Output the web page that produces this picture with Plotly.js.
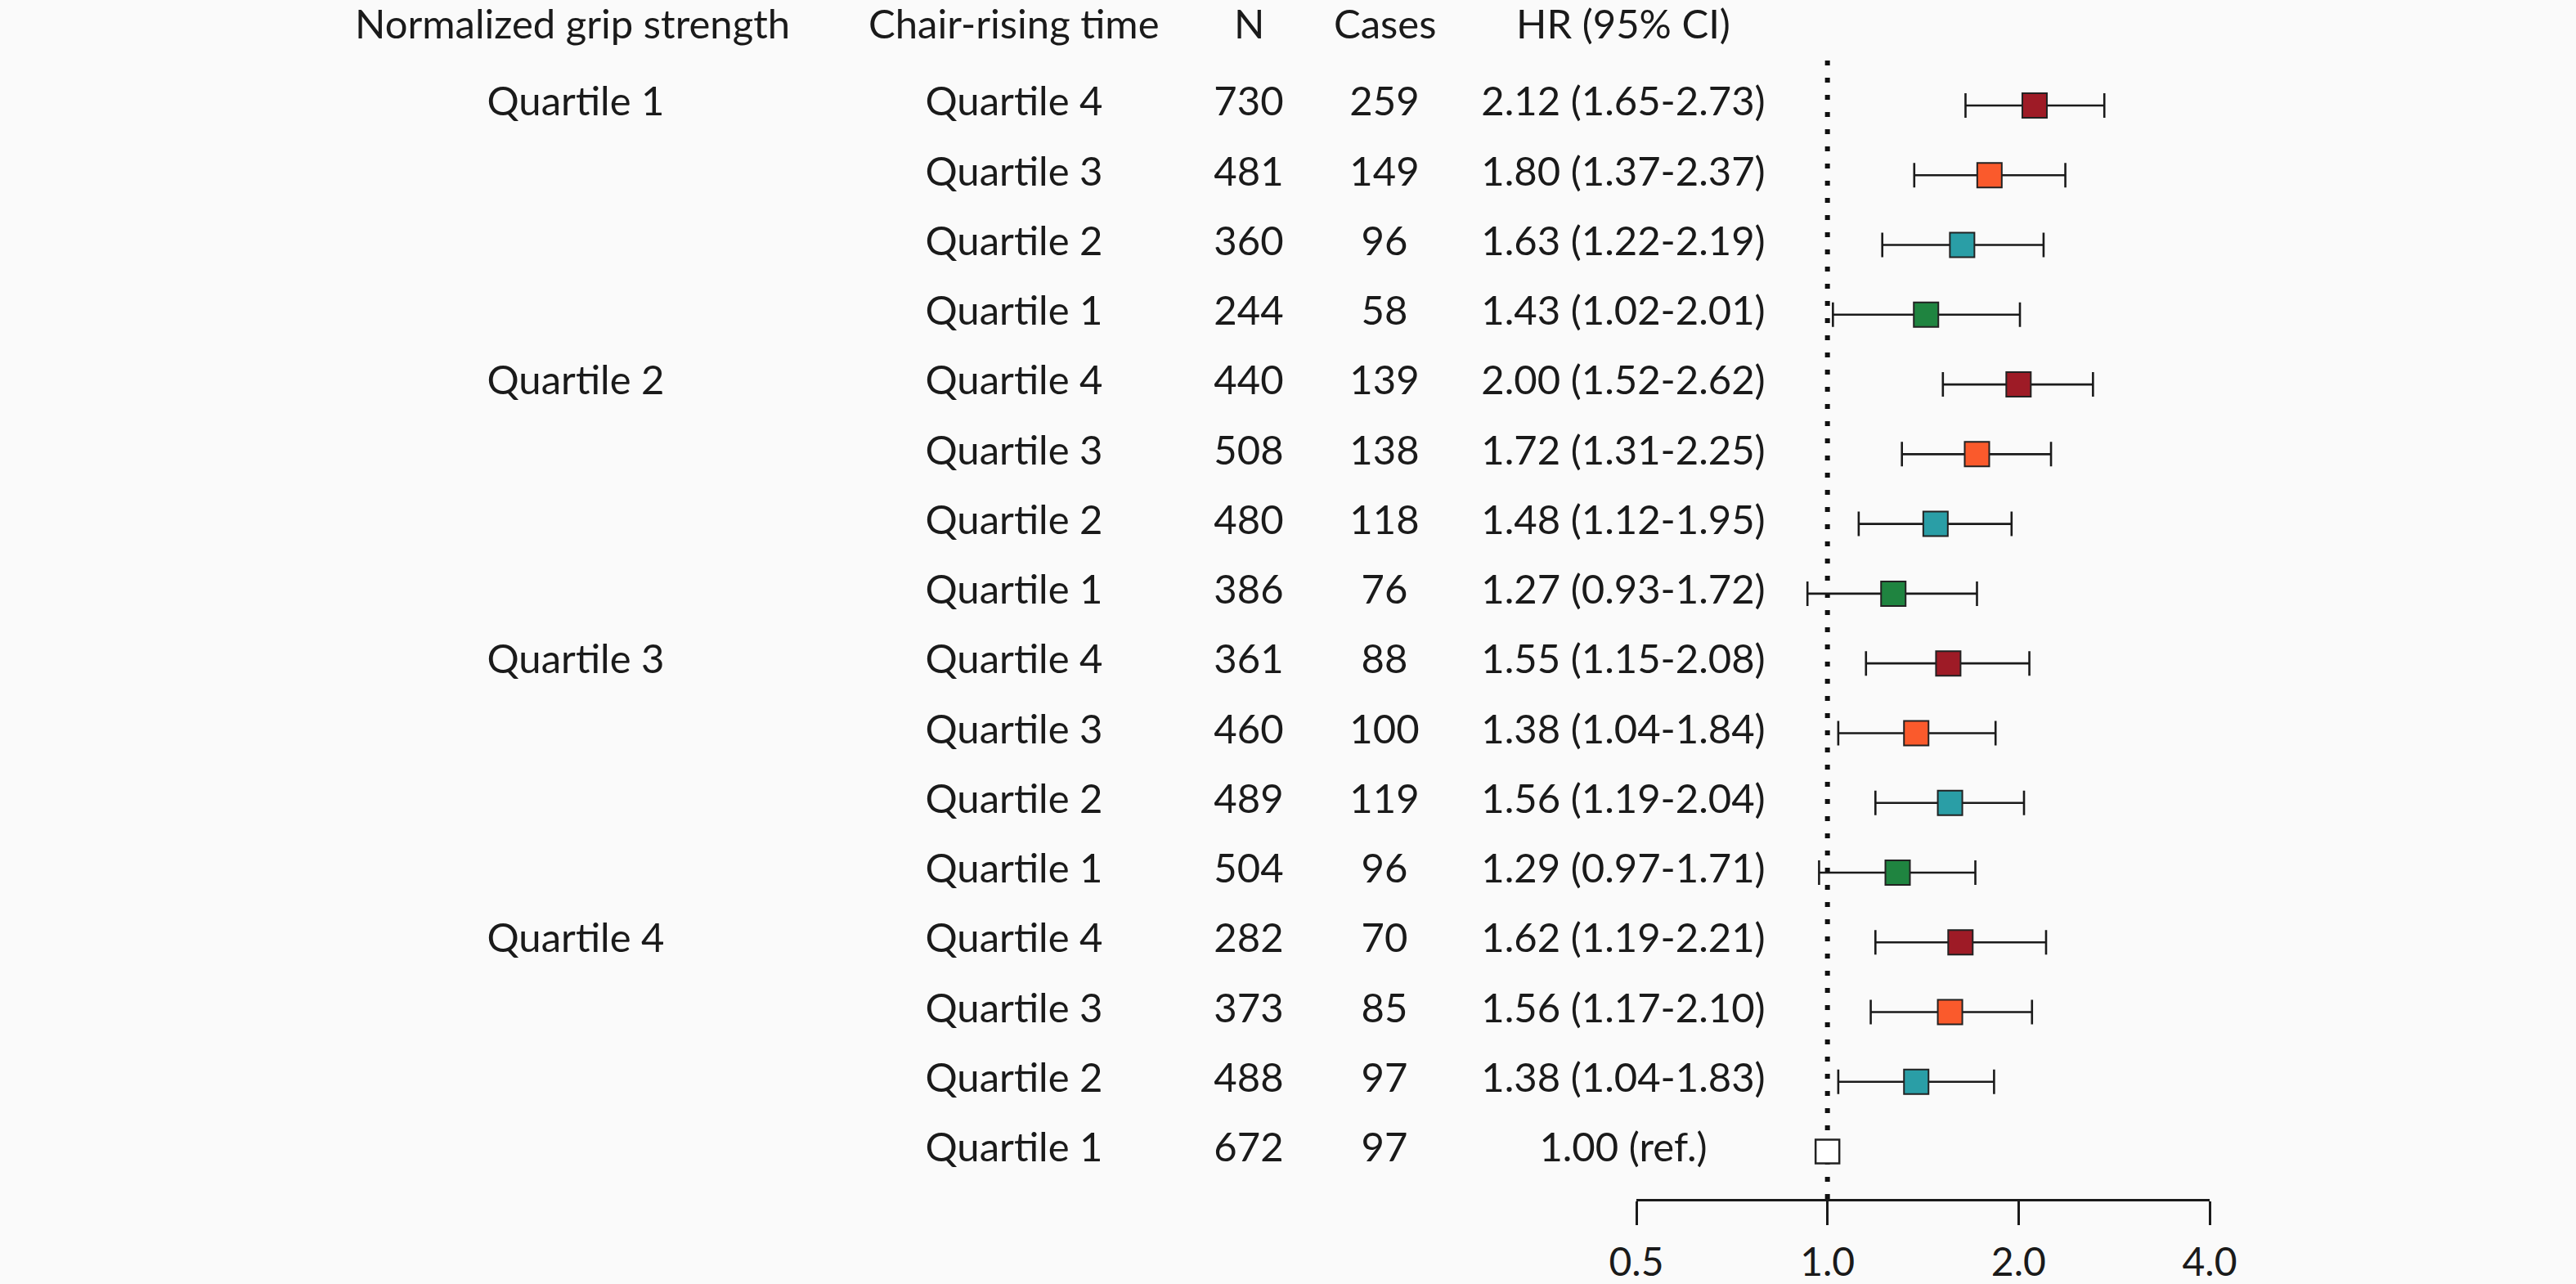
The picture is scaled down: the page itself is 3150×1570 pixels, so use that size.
<!DOCTYPE html>
<html>
<head>
<meta charset="utf-8">
<script src="https://cdn.plot.ly/plotly-3.0.1.min.js"></script>
<style>html,body{margin:0;padding:0;background:#FAFAFA;}#chart{width:3150px;height:1570px;}</style>
</head>
<body>
<div id="chart"></div>
<script>
// ---- data ----
const gripLabels = ["Quartile 1","","","","Quartile 2","","","","Quartile 3","","","","Quartile 4","","",""];
const chairLabels = ["Quartile 4","Quartile 3","Quartile 2","Quartile 1","Quartile 4","Quartile 3","Quartile 2","Quartile 1","Quartile 4","Quartile 3","Quartile 2","Quartile 1","Quartile 4","Quartile 3","Quartile 2","Quartile 1"];
const nValues = [730,481,360,244,440,508,480,386,361,460,489,504,282,373,488,672];
const caseValues = [259,149,96,58,139,138,118,76,88,100,119,96,70,85,97,97];
const hrValues = [2.12,1.80,1.63,1.43,2.00,1.72,1.48,1.27,1.55,1.38,1.56,1.29,1.62,1.56,1.38,1.00];
const ciLower = [1.65,1.37,1.22,1.02,1.52,1.31,1.12,0.93,1.15,1.04,1.19,0.97,1.19,1.17,1.04,null];
const ciUpper = [2.73,2.37,2.19,2.01,2.62,2.25,1.95,1.72,2.08,1.84,2.04,1.71,2.21,2.10,1.83,null];
const headerLabels = ["Normalized grip strength","Chair-rising time","N","Cases","HR (95% CI)"];
const tickValues = [0.5,1,2,4];
const tickLabels = ["0.5","1.0","2.0","4.0"];
const nullEffect = 1.0;

// ---- styles ----
const chairColors = {"Quartile 4":"#9E1B26","Quartile 3":"#FA5A2C","Quartile 2":"#2A9EA6","Quartile 1":"#1F8440"};
const FONT = "Lato, 'Open Sans', sans-serif";
const FS = 49;
const TXT = "#1a1a1a";
const W = 3150, H = 1570, PLOT_BOTTOM = 1466;
const colX = [704, 1240, 1527, 1693, 1985];   // column centres (px, via x2 axis)
const rowTop = 129, rowStep = 85.27;

const rows = hrValues.map((_, i) => i + 1);
const hrText = hrValues.map((v, i) => ciLower[i] == null ? v.toFixed(2) + " (ref.)" :
  v.toFixed(2) + " (" + ciLower[i].toFixed(2) + "-" + ciUpper[i].toFixed(2) + ")");

const ciIdx = rows.map((r, i) => i).filter(i => ciLower[i] != null);
const refIdx = rows.map((r, i) => i).filter(i => ciLower[i] == null);

const yTop = 1 - rowTop / rowStep;
const yBottom = 1 + (PLOT_BOTTOM - rowTop) / rowStep;
const lineTop = 1 + (65 - rowTop) / rowStep;
const headerY = 1 - 28 / PLOT_BOTTOM;

function textTrace(xc, texts) {
  return {
    type: "scatter", mode: "text", xaxis: "x2", yaxis: "y",
    x: rows.map(() => xc), y: rows, text: texts.map(String),
    textposition: "middle center", cliponaxis: false, hoverinfo: "skip",
    textfont: {family: FONT, size: FS, color: TXT}
  };
}

const traces = [
  textTrace(colX[0], gripLabels),
  textTrace(colX[1], chairLabels),
  textTrace(colX[2], nValues),
  textTrace(colX[3], caseValues),
  textTrace(colX[4], hrText),
  {
    // reference line at HR = 1
    type: "scatter", mode: "lines", xaxis: "x", yaxis: "y",
    x: [nullEffect, nullEffect], y: [yBottom, lineTop],
    line: {color: "#111", width: 6, dash: "6px,15px"},
    cliponaxis: false, hoverinfo: "skip"
  },
  {
    type: "scatter", mode: "markers", xaxis: "x", yaxis: "y",
    x: ciIdx.map(i => hrValues[i]), y: ciIdx.map(i => rows[i]),
    error_x: {
      type: "data", symmetric: false,
      array: ciIdx.map(i => ciUpper[i] - hrValues[i]),
      arrayminus: ciIdx.map(i => hrValues[i] - ciLower[i]),
      color: "#1a1a1a", thickness: 2.6, width: 15
    },
    marker: {symbol: "square", size: 30, color: ciIdx.map(i => chairColors[chairLabels[i]]),
             line: {color: "#222", width: 2}},
    cliponaxis: false, hoverinfo: "skip"
  },
  {
    type: "scatter", mode: "markers", xaxis: "x", yaxis: "y",
    x: refIdx.map(i => hrValues[i]), y: refIdx.map(i => rows[i]),
    marker: {symbol: "square", size: 29, color: "#ffffff", line: {color: "#222", width: 2.5}},
    cliponaxis: false, hoverinfo: "skip"
  }
];

const layout = {
  width: W, height: H,
  margin: {l: 0, r: 0, t: 0, b: H - PLOT_BOTTOM, pad: 0},
  paper_bgcolor: "#FAFAFA", plot_bgcolor: "rgba(0,0,0,0)",
  showlegend: false,
  font: {family: FONT, size: FS, color: TXT},
  xaxis: {
    type: "log", domain: [2001 / W, 2702 / W],
    range: [Math.log10(tickValues[0]), Math.log10(tickValues[tickValues.length - 1])],
    tickmode: "array", tickvals: tickValues, ticktext: tickLabels,
    ticks: "outside", ticklen: 29, tickwidth: 3, tickcolor: "#1a1a1a",
    ticklabelstandoff: 4,
    showline: true, linewidth: 3, linecolor: "#1a1a1a",
    showgrid: false, zeroline: false, anchor: "y",
    tickfont: {family: FONT, size: 48, color: TXT}
  },
  xaxis2: {range: [0, W], domain: [0, 1], visible: false, anchor: "y", fixedrange: true},
  yaxis: {range: [yBottom, yTop], visible: false, showgrid: false, zeroline: false},
  annotations: headerLabels.map((t, i) => ({
    text: t, xref: "x2", x: colX[i] + (i === 0 ? -4 : 0), yref: "paper", y: headerY,
    xanchor: "center", yanchor: "middle", showarrow: false,
    font: {family: FONT, size: FS, color: TXT}
  }))
};

Plotly.newPlot("chart", traces, layout, {staticPlot: true, displayModeBar: false});
</script>
</body>
</html>
